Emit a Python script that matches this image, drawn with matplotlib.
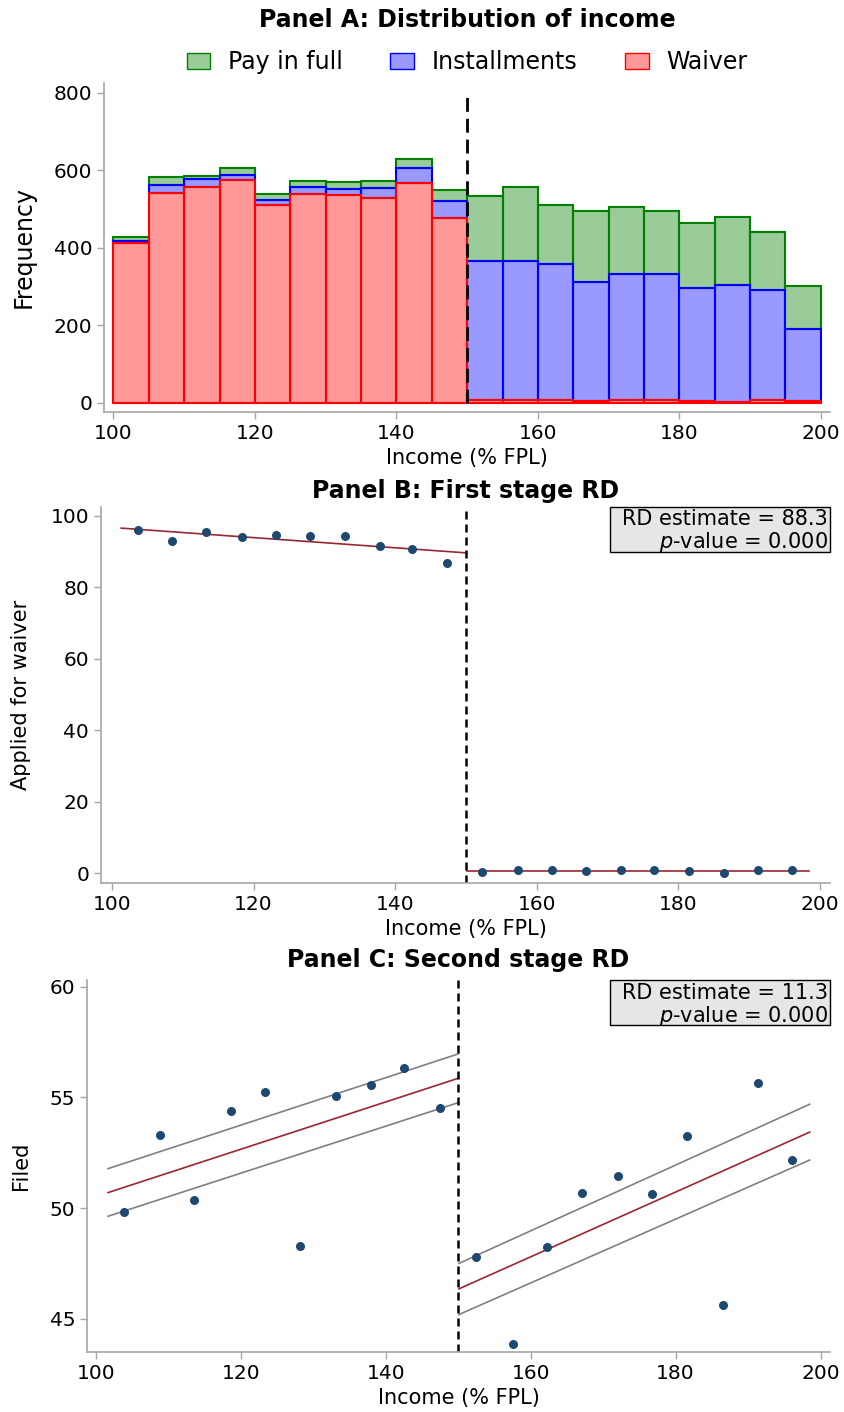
import numpy as np
import matplotlib
matplotlib.use("Agg")
import matplotlib.pyplot as plt
from matplotlib.patches import Patch, Rectangle

# ---- Panel A: stacked income histogram (bin width 5, % FPL) ----
bin_left = [100, 105, 110, 115, 120, 125, 130, 135, 140, 145,
            150, 155, 160, 165, 170, 175, 180, 185, 190, 195]
waiver = [413, 542, 556, 574, 510, 539, 536, 528, 568, 477,
          6, 6, 6, 5, 6, 6, 4, 3, 6, 4]
installments = [4, 20, 21, 14, 14, 17, 16, 25, 38, 44,
                360, 360, 351, 307, 325, 326, 292, 302, 286, 187]
pay_full = [10, 20, 7, 17, 14, 16, 17, 19, 22, 27,
            168, 190, 154, 182, 174, 164, 168, 174, 149, 110]

# ---- Panel B: first stage (share applied for waiver) ----
b_x_left = [103.7, 108.5, 113.3, 118.3, 123.2, 127.9, 132.9, 137.8, 142.4, 147.3]
b_y_left = [96.1, 92.9, 95.4, 94.2, 94.6, 94.3, 94.3, 91.5, 90.8, 86.8]
b_x_right = [152.2, 157.4, 162.1, 167.0, 171.9, 176.6, 181.5, 186.4, 191.3, 196.1]
b_y_right = [0.3, 0.8, 0.75, 0.56, 0.75, 0.75, 0.56, 0.0, 0.75, 0.9]
b_fit_left_x = [101.3, 149.8]
b_fit_left_y = [96.6, 89.7]
b_fit_right_x = [150.2, 198.4]
b_fit_right_y = [0.64, 0.64]

# ---- Panel C: second stage (share filed) ----
c_x_left = [103.9, 108.9, 113.6, 118.6, 123.4, 128.2, 133.1, 138.0, 142.6, 147.5]
c_y_left = [49.84, 53.30, 50.38, 54.40, 55.25, 48.27, 55.08, 55.54, 56.32, 54.54]
c_x_right = [152.4, 157.6, 162.2, 167.1, 172.0, 176.7, 181.6, 186.5, 191.3, 196.1]
c_y_right = [47.80, 43.87, 48.25, 50.66, 51.44, 50.65, 53.25, 45.63, 55.66, 52.17]
c_fit_left_x = [101.7, 150.0]
c_fit_left = [50.70, 55.86]
c_lo_left = [49.63, 54.76]
c_hi_left = [51.78, 56.96]
c_fit_right_x = [150.1, 198.5]
c_fit_right = [46.35, 53.43]
c_lo_right = [45.19, 52.17]
c_hi_right = [47.50, 54.69]

rd_b = "RD estimate = 88.3\n$p$-value = 0.000"
rd_c = "RD estimate = 11.3\n$p$-value = 0.000"

cutoff = 150
dot_color = '#1d4870'
fit_color = '#9b2631'
spine_grey = '#a6a6a6'

plt.rcParams['font.family'] = ['DejaVu Sans']

fig = plt.figure(figsize=(8.44, 14.12), dpi=100)
W, H = 844, 1412


def add_axes(l, t, r, b):
    return fig.add_axes([l / W, 1 - b / H, (r - l) / W, (b - t) / H])


def style_axis(ax):
    for s in ['top', 'right']:
        ax.spines[s].set_visible(False)
    for s in ['left', 'bottom']:
        ax.spines[s].set_color(spine_grey)
        ax.spines[s].set_linewidth(1.2)
    ax.tick_params(colors=spine_grey, labelcolor='black', labelsize=14.5,
                   length=5, width=1)


def rd_box(ax, txt):
    # grey box in the upper right corner, about 220 x 45 px
    bb = ax.get_position()
    bw = 220 / (bb.width * W)
    bh = 45 / (bb.height * H)
    ax.add_patch(Rectangle((1 - bw, 1 - bh), bw, bh, transform=ax.transAxes,
                           facecolor='#e6e6e6', edgecolor='black', lw=1,
                           clip_on=False, zorder=4))
    ax.text(0.997, 0.993, txt, transform=ax.transAxes, ha='right', va='top',
            multialignment='right', fontsize=15, linespacing=1.05, zorder=5)


# Panel A
ax = add_axes(104.3, 82.7, 830, 412)
left = np.array(bin_left, dtype=float)
w = np.array(waiver)
inst = np.array(installments)
pf = np.array(pay_full)
ax.bar(left, pf, width=5, bottom=w + inst, align='edge',
       facecolor=(0, 0.5, 0, 0.4), edgecolor='green', linewidth=1.5)
ax.bar(left, inst, width=5, bottom=w, align='edge',
       facecolor=(0, 0, 1, 0.4), edgecolor='blue', linewidth=1.5)
ax.bar(left, w, width=5, align='edge',
       facecolor=(1, 0, 0, 0.4), edgecolor='red', linewidth=1.5)
ax.vlines(cutoff, 0, 800, colors='black', linewidth=2, linestyles=(0, (5, 2.5)))
ax.set_xlim(98.7, 201.3)
ax.set_ylim(-24, 826)
ax.set_yticks([0, 200, 400, 600, 800])
ax.set_xticks([100, 120, 140, 160, 180, 200])
style_axis(ax)
ax.set_ylabel('Frequency', fontsize=17, labelpad=13)
ax.set_xlabel('Income (% FPL)', fontsize=15)
ax.set_title('Panel A: Distribution of income', fontsize=17, fontweight='bold', pad=40)
handles = [Patch(facecolor=(0, 0.5, 0, 0.4), edgecolor='green', label='Pay in full'),
           Patch(facecolor=(0, 0, 1, 0.4), edgecolor='blue', label='Installments'),
           Patch(facecolor=(1, 0, 0, 0.4), edgecolor='red', label='Waiver')]
ax.legend(handles=handles, loc='lower center', bbox_to_anchor=(0.5, 0.99), ncol=3,
          frameon=False, fontsize=17, handlelength=1.0, handletextpad=0.76,
          columnspacing=2.0, borderaxespad=0.1)

# Panel B
ax = add_axes(101, 506.7, 830, 882.7)
ax.scatter(b_x_left, b_y_left, s=30, color=dot_color, zorder=3)
ax.scatter(b_x_right, b_y_right, s=30, color=dot_color, zorder=3)
ax.plot(b_fit_left_x, b_fit_left_y, color=fit_color, lw=1.2)
ax.plot(b_fit_right_x, b_fit_right_y, color=fit_color, lw=1.2)
ax.axvline(cutoff, color='black', lw=1.8, linestyle=(0, (3.2, 2)))
ax.set_xlim(98.45, 201.4)
ax.set_ylim(-2.7, 102.6)
ax.set_yticks([0, 20, 40, 60, 80, 100])
ax.set_xticks([100, 120, 140, 160, 180, 200])
style_axis(ax)
ax.set_ylabel('Applied for waiver', fontsize=15, labelpad=14)
ax.set_xlabel('Income (% FPL)', fontsize=15)
ax.set_title('Panel B: First stage RD', fontsize=17, fontweight='bold', pad=6)
rd_box(ax, rd_b)

# Panel C
ax = add_axes(87, 980, 830, 1352)
ax.scatter(c_x_left, c_y_left, s=30, color=dot_color, zorder=3)
ax.scatter(c_x_right, c_y_right, s=30, color=dot_color, zorder=3)
for xs, fit, lo, hi in [(c_fit_left_x, c_fit_left, c_lo_left, c_hi_left),
                        (c_fit_right_x, c_fit_right, c_lo_right, c_hi_right)]:
    ax.plot(xs, hi, color='#808080', lw=1.2)
    ax.plot(xs, lo, color='#808080', lw=1.2)
    ax.plot(xs, fit, color=fit_color, lw=1.2)
ax.axvline(cutoff, color='black', lw=1.8, linestyle=(0, (3.2, 2)))
ax.set_xlim(98.8, 201.3)
ax.set_ylim(43.5, 60.3)
ax.set_yticks([45, 50, 55, 60])
ax.set_xticks([100, 120, 140, 160, 180, 200])
style_axis(ax)
ax.set_ylabel('Filed', fontsize=15, labelpad=13.5)
ax.set_xlabel('Income (% FPL)', fontsize=15)
ax.set_title('Panel C: Second stage RD', fontsize=17, fontweight='bold', pad=9)
rd_box(ax, rd_c)

fig.savefig('out.png', dpi=100)
